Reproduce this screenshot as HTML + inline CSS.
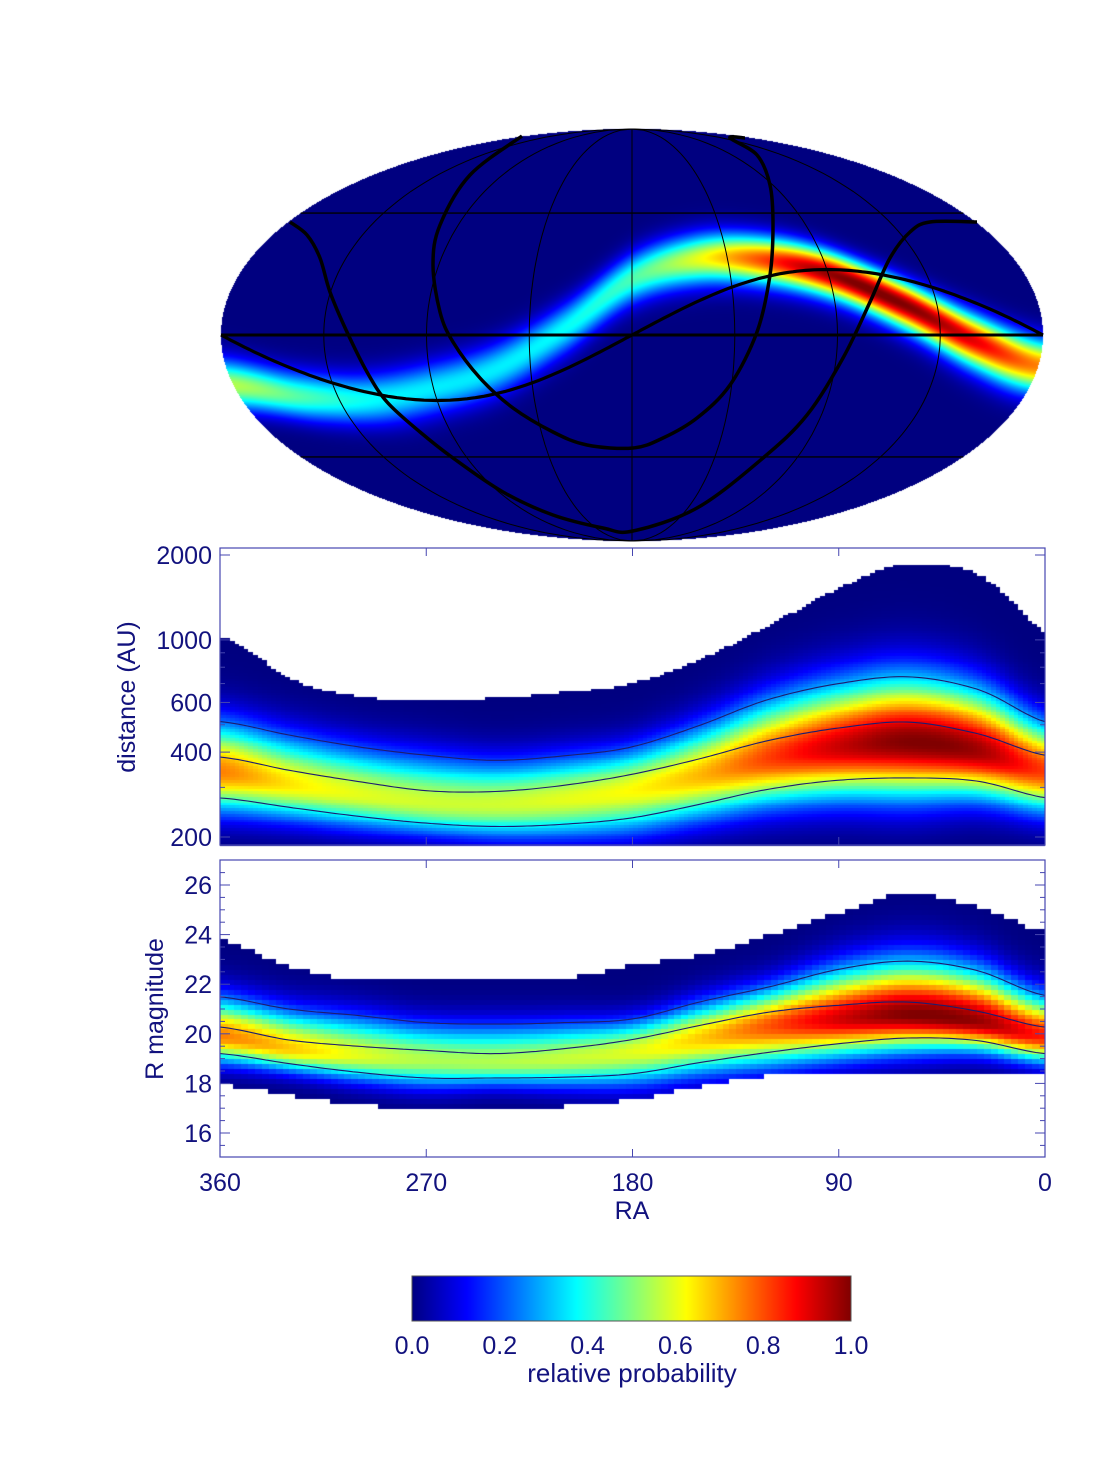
<!DOCTYPE html>
<html><head><meta charset="utf-8">
<style>
html,body{margin:0;padding:0;background:#fff;}
#wrap{position:relative;width:1100px;height:1484px;overflow:hidden;}
canvas,svg{position:absolute;left:0;top:0;}
text{font-family:"Liberation Sans",Arial,sans-serif;fill:#12127e;}
</style></head>
<body>
<div id="wrap">
<canvas id="cv" width="1100" height="1484"></canvas>
<svg id="ov" width="1100" height="1484">
  <g id="skyLines"></g>
  <g id="axes"></g>
  <text x="0" y="0" transform="translate(135,697) rotate(-90)" text-anchor="middle" font-size="25">distance (AU)</text>
  <text x="0" y="0" transform="translate(163,1009) rotate(-90)" text-anchor="middle" font-size="25">R magnitude</text>
  <text x="632" y="1219" text-anchor="middle" font-size="25">RA</text>
  <defs>
    <linearGradient id="jet" x1="0" x2="1" y1="0" y2="0">
      <stop offset="0" stop-color="#000080"/><stop offset="0.125" stop-color="#0000ff"/>
      <stop offset="0.375" stop-color="#00ffff"/><stop offset="0.625" stop-color="#ffff00"/>
      <stop offset="0.875" stop-color="#ff0000"/><stop offset="1" stop-color="#800000"/>
    </linearGradient>
  </defs>
  <rect x="412" y="1276" width="439" height="45" fill="url(#jet)" stroke="#555" stroke-width="1"/>
  <g id="cbLabels"></g>
  <text x="632" y="1382" text-anchor="middle" font-size="26">relative probability</text>
</svg>
</div>
<script>
// ---------- data ----------
const raNodes = [360,330,300,270,240,210,180,150,120,90,60,30,0];
// sky map band
const bandDec = [-18,-22,-23,-19,-12,2,20,27,27,22,11,-2,-11];
const bandAmp = [0.55,0.45,0.38,0.36,0.36,0.38,0.45,0.6,0.8,0.98,1.0,0.9,0.75];
// distance panel (AU)
const distTop = [1012,720,620,608,612,640,690,840,1110,1495,1830,1690,1044];
const distMedian = [384,345,315,292,290,305,334,380,441,487,511,466,390];
const distUpper = [513,460,418,390,374,388,418,500,617,700,740,670,513];
const distLower = [275,255,237,224,218,222,234,262,296,318,324,316,276];
const distAmp = [0.75,0.65,0.6,0.58,0.58,0.6,0.63,0.7,0.82,0.93,1.0,0.97,0.82];
// magnitude panel
const magTop = [23.64,22.6,22.06,22.06,22.06,22.1,22.65,23.05,23.85,24.75,25.5,25.0,24.0];
const magBottom = [17.94,17.55,17.17,16.97,16.97,17.1,17.37,17.9,18.32,18.32,18.32,18.32,18.32];
const magMedian = [20.27,19.75,19.5,19.33,19.2,19.4,19.77,20.35,20.88,21.15,21.28,20.92,20.27];
const magUpper = [21.49,21.0,20.74,20.45,20.39,20.45,20.6,21.3,21.9,22.6,22.93,22.56,21.55];
const magLower = [19.2,18.8,18.45,18.22,18.22,18.25,18.39,18.85,19.26,19.6,19.83,19.73,19.2];
const magAmp = [0.75,0.68,0.6,0.55,0.55,0.57,0.6,0.68,0.8,0.92,1.0,0.98,0.85];
// ticks
const raTicks = [360,270,180,90,0];
const distTicks = [2000,1000,600,400,200];
const distMinor = [300,500,700,800,900];
const magTicks = [16,18,20,22,24,26];
const cbTicks = [0.0,0.2,0.4,0.6,0.8,1.0];
// overlay traces on sky map (normalized map coordinates u,v in [-1,1])
const innerLoop = [[522,136],[470,175],[440,225],[433,265],[440,312],[453,342],[480,378],[513,408],[553,432],[587,445],[633,448],[663,438],[697,418],[730,385],[757,332],[770,275],[773,225],[770,185],[757,155],[730,138],[745,138]].map(p=>[(p[0]-632)/411,(p[1]-335)/206]);
const outerLoop = [[290,222],[307,235],[320,258],[330,292],[347,332],[367,372],[387,402],[420,432],[453,458],[503,492],[553,515],[603,528],[633,531],[697,508],[763,458],[807,415],[843,358],[870,302],[890,258],[910,232],[930,222],[977,222]].map(p=>[(p[0]-632)/411,(p[1]-335)/206]);

// ---------- helpers ----------
function interp(arr, ra){
  let f=(360-ra)/30; if(f<0)f=0; if(f>12)f=12;
  let i=Math.min(Math.floor(f),11), t=f-i;
  const p0=arr[Math.max(i-1,0)],p1=arr[i],p2=arr[i+1],p3=arr[Math.min(i+2,12)];
  return 0.5*((2*p1)+(-p0+p2)*t+(2*p0-5*p1+4*p2-p3)*t*t+(-p0+3*p1-3*p2+p3)*t*t*t);
}
function jet(v){
  v=Math.max(0,Math.min(1,v));
  const c=x=>Math.round(255*Math.max(0,Math.min(1,x)));
  return [c(1.5-Math.abs(4*v-3)),c(1.5-Math.abs(4*v-2)),c(1.5-Math.abs(4*v-1))];
}
const NS='http://www.w3.org/2000/svg';
function mk(tag,attrs,parent){const e=document.createElementNS(NS,tag);for(const k in attrs)e.setAttribute(k,attrs[k]);parent.appendChild(e);return e;}
function smoothPath(pts){
  let d='M'+pts[0][0].toFixed(1)+','+pts[0][1].toFixed(1);
  for(let i=0;i<pts.length-1;i++){
    const p0=pts[Math.max(i-1,0)],p1=pts[i],p2=pts[i+1],p3=pts[Math.min(i+2,pts.length-1)];
    const c1=[p1[0]+(p2[0]-p0[0])/6,p1[1]+(p2[1]-p0[1])/6], c2=[p2[0]-(p3[0]-p1[0])/6,p2[1]-(p3[1]-p1[1])/6];
    d+='C'+c1[0].toFixed(1)+','+c1[1].toFixed(1)+' '+c2[0].toFixed(1)+','+c2[1].toFixed(1)+' '+p2[0].toFixed(1)+','+p2[1].toFixed(1);
  }
  return d;
}

const cv=document.getElementById('cv'), ctx=cv.getContext('2d');
// ---------- sky map ----------
const CX=632,CY=335,A=411,B=206;
function solveTheta(latDeg){
  const t=Math.PI*Math.sin(latDeg*Math.PI/180); let th=latDeg*Math.PI/180*0.8;
  for(let k=0;k<30;k++){const f=2*th+Math.sin(2*th)-t, d=2+2*Math.cos(2*th); if(Math.abs(d)<1e-9)break; th-=f/d;}
  return th;
}
function proj(lonOff,lat){const th=solveTheta(lat);return [CX+A*(lonOff/180)*Math.cos(th), CY-B*Math.sin(th)];}
(function(){
  const x0=CX-A-1,y0=CY-B-1,w=2*A+3,h=2*B+3;
  const img=ctx.createImageData(w,h);
  for(let j=0;j<h;j++){
    const v=(CY-(y0+j+0.5))/B; if(Math.abs(v)>1)continue;
    const th=Math.asin(v), lat=Math.asin(Math.max(-1,Math.min(1,(2*th+Math.sin(2*th))/Math.PI)))*180/Math.PI;
    for(let i=0;i<w;i++){
      const u=(x0+i+0.5-CX)/A; const lon=180*u/Math.cos(th);
      if(Math.abs(lon)>180)continue;
      const ra=180-lon;
      const c=interp(bandDec,ra), am=interp(bandAmp,ra);
      const val=am*Math.exp(-0.5*Math.pow((lat-c)/6.3,2));
      const col=jet(val); const k=4*(j*w+i);
      img.data[k]=col[0];img.data[k+1]=col[1];img.data[k+2]=col[2];img.data[k+3]=255;
    }
  }
  ctx.putImageData(img,x0,y0);
})();
(function(){
  const g=document.getElementById('skyLines');
  [-135,-90,-45,0,45,90,135].forEach(lo=>{
    let d='';for(let la=-90;la<=90;la+=2){const p=proj(lo,la);d+=(d?'L':'M')+p[0].toFixed(1)+','+p[1].toFixed(1);}
    const e=mk('path',{d:d,fill:'none',stroke:'#000','stroke-width':1},g);
    
  });
  [-45,45].forEach(la=>{
    const th=solveTheta(la),y=CY-B*Math.sin(th),hw=A*Math.cos(th);
    const e=mk('line',{x1:CX-hw,x2:CX+hw,y1:y,y2:y,stroke:'#000','stroke-width':1.3},g);
    
  });
  const eq=mk('line',{x1:CX-A,x2:CX+A,y1:CY,y2:CY,stroke:'#000','stroke-width':3},g);
  
  let d='';
  for(let ra=0;ra<=360;ra+=2){const dec=Math.atan(Math.tan(23.44*Math.PI/180)*Math.sin(ra*Math.PI/180))*180/Math.PI;const p=proj(180-ra,dec);d+=(d?'L':'M')+p[0].toFixed(1)+','+p[1].toFixed(1);}
  const ec=mk('path',{d:d,fill:'none',stroke:'#000','stroke-width':3.2,'stroke-linejoin':'round'},g);
  
  [innerLoop,outerLoop].forEach((tr,n)=>{
    const pts=tr.map(p=>[CX+p[0]*A,CY+p[1]*B]);
    const e=mk('path',{d:smoothPath(pts),fill:'none',stroke:'#000','stroke-width':3.5,'stroke-linejoin':'round'},g);
    
  });
})();

// ---------- panels ----------
const PX0=220,PX1=1045;
const xRA=ra=>PX0+(360-ra)/360*(PX1-PX0);
const P2={top:548,bot:845}; const yD=d=>555+(Math.log10(2000)-Math.log10(d))*282;
const P3={top:860,bot:1157}; const yM=m=>885+(26-m)*24.8;

for(let ra=0;ra<360;ra+=2){
  const rc=ra+1, lt=Math.log10(interp(distTop,rc)), lm=Math.log10(interp(distMedian,rc));
  const lu=Math.log10(interp(distUpper,rc)), ll=Math.log10(interp(distLower,rc)), am=interp(distAmp,rc);
  const mode=lm-0.35*(lm-ll), sl=(mode-ll), su=(lu-mode)/1.5;
  const xa=xRA(ra+2), xb=xRA(ra);
  for(let L=Math.log10(180);L<lt;L+=0.01){
    const Lc=L+0.005, z=Lc<mode?(mode-Lc)/sl:(Lc-mode)/su;
    const c=jet(am*Math.exp(-0.5*z*z));
    let ya=yD(Math.pow(10,L+0.01)), yb=yD(Math.pow(10,L));
    ya=Math.max(ya,P2.top); yb=Math.min(yb,P2.bot); if(yb<=ya)continue;
    ctx.fillStyle='rgb('+c+')'; ctx.fillRect(Math.floor(xa),Math.floor(ya),Math.ceil(xb-xa)+1,Math.ceil(yb-ya)+1);
  }
}
for(let ra=0;ra<360;ra+=3){
  const rc=ra+1.5, mt=interp(magTop,rc), mb=interp(magBottom,rc), mm=interp(magMedian,rc);
  const mu=interp(magUpper,rc), ml=interp(magLower,rc), am=interp(magAmp,rc);
  const mode=mm-0.35*(mm-ml), sl=(mode-ml), su=(mu-mode)/1.5;
  const xa=xRA(ra+3), xb=xRA(ra);
  const m0=Math.round(mb*5)/5;
  for(let m=m0;m<mt;m+=0.2){
    const mc=m+0.1, z=mc<mode?(mode-mc)/sl:(mc-mode)/su;
    const c=jet(am*Math.exp(-0.5*z*z));
    const ya=yM(m+0.2), yb=yM(m);
    ctx.fillStyle='rgb('+c+')'; ctx.fillRect(Math.floor(xa),Math.floor(ya),Math.ceil(xb-xa)+1,Math.ceil(yb-ya)+1);
  }
}
ctx.fillStyle='#fff';ctx.fillRect(PX1,540,50,650);

(function(){
  const g=document.getElementById('axes');
  const frame='#4646b0';
  function contour(arr,yf,name){
    let d='';for(let ra=360;ra>=0;ra-=2){d+=(d?'L':'M')+xRA(ra).toFixed(1)+','+yf(interp(arr,ra)).toFixed(1);}
    const e=mk('path',{d:d,fill:'none',stroke:'#1d1d70','stroke-width':1.1},g);
    
  }
  contour(distMedian,yD,'distance-median-contour');contour(distUpper,yD,'distance-upper-contour');contour(distLower,yD,'distance-lower-contour');
  contour(magMedian,yM,'magnitude-median-contour');contour(magUpper,yM,'magnitude-upper-contour');contour(magLower,yM,'magnitude-lower-contour');
  [[P2,'distance-panel-frame'],[P3,'magnitude-panel-frame']].forEach(([P,nm])=>{
    const r=mk('rect',{x:PX0,y:P.top,width:PX1-PX0,height:P.bot-P.top,fill:'none',stroke:frame,'stroke-width':1.2},g);
    
    raTicks.forEach(t=>{const x=xRA(t);
      mk('line',{x1:x,x2:x,y1:P.top,y2:P.top+8,stroke:frame},g);
      mk('line',{x1:x,x2:x,y1:P.bot,y2:P.bot-8,stroke:frame},g);});
  });
  raTicks.forEach(t=>{const e=mk('text',{x:xRA(t),y:1191,'text-anchor':'middle','font-size':25},g);e.textContent=String(t);
    });
  distTicks.forEach(t=>{const y=yD(t);
    mk('line',{x1:PX0,x2:PX0+10,y1:y,y2:y,stroke:frame},g);mk('line',{x1:PX1,x2:PX1-10,y1:y,y2:y,stroke:frame},g);
    const e=mk('text',{x:212,y:y+9,'text-anchor':'end','font-size':25},g);e.textContent=String(t);
    });
  distMinor.forEach(t=>{const y=yD(t);mk('line',{x1:PX0,x2:PX0+5,y1:y,y2:y,stroke:frame},g);mk('line',{x1:PX1,x2:PX1-5,y1:y,y2:y,stroke:frame},g);});
  for(let m=15.5;m<27;m+=0.5){const y=yM(m);const big=magTicks.indexOf(m)>=0;
    mk('line',{x1:PX0,x2:PX0+(big?10:5),y1:y,y2:y,stroke:frame},g);mk('line',{x1:PX1,x2:PX1-(big?10:5),y1:y,y2:y,stroke:frame},g);}
  magTicks.forEach(t=>{const e=mk('text',{x:212,y:yM(t)+9,'text-anchor':'end','font-size':25},g);e.textContent=String(t);
    });
  const cb=document.getElementById('cbLabels');
  cbTicks.forEach(t=>{const e=mk('text',{x:412+t*439,y:1354,'text-anchor':'middle','font-size':25},cb);e.textContent=t.toFixed(1);
    });
})();
</script>
</body></html>
